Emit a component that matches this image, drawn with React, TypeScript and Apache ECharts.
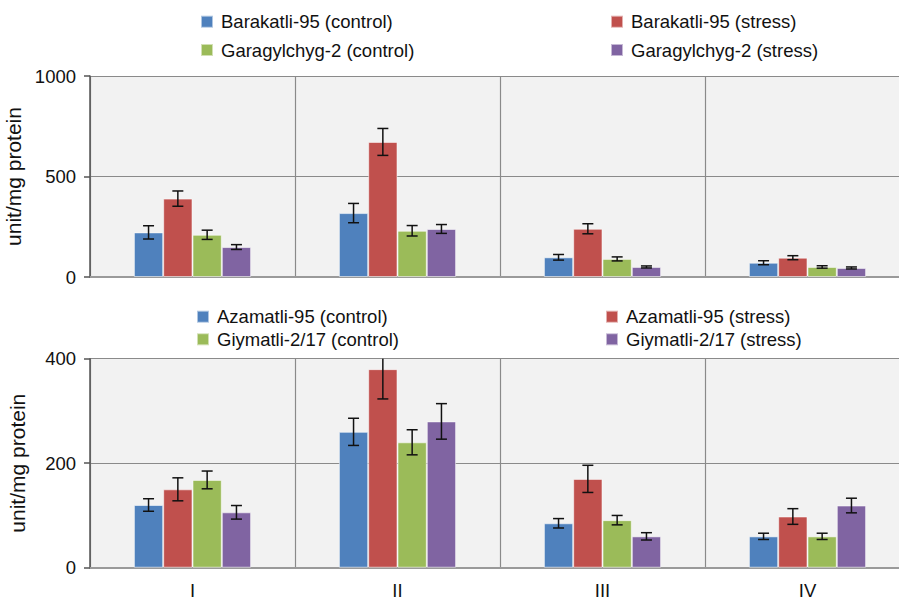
import React, { useEffect, useRef } from "react";
import * as echarts from "echarts";

// Category labels shared by both panels
const categories = ["I", "II", "III", "IV"];

// Upper panel: Barakatli-95 and Garagylchyg-2
const topNames = [
  "Barakatli-95 (control)",
  "Barakatli-95 (stress)",
  "Garagylchyg-2 (control)",
  "Garagylchyg-2 (stress)",
];
const barakatliControl = [222, 318, 98, 71];
const barakatliStress = [390, 672, 240, 96];
const garagylchygControl = [210, 230, 90, 50];
const garagylchygStress = [149, 239, 50, 45];
const barakatliControlErr = [33, 48, 14, 10];
const barakatliStressErr = [38, 67, 25, 10];
const garagylchygControlErr = [23, 26, 10, 6];
const garagylchygStressErr = [12, 22, 5, 5];

// Lower panel: Azamatli-95 and Giymatli-2/17
const bottomNames = [
  "Azamatli-95 (control)",
  "Azamatli-95 (stress)",
  "Giymatli-2/17 (control)",
  "Giymatli-2/17 (stress)",
];
const azamatliControl = [120, 260, 85, 60];
const azamatliStress = [150, 380, 170, 98];
const giymatliControl = [168, 240, 91, 60];
const giymatliStress = [106, 280, 60, 119];
const azamatliControlErr = [12, 26, 9, 6];
const azamatliStressErr = [22, 57, 26, 15];
const giymatliControlErr = [17, 24, 9, 6];
const giymatliStressErr = [13, 34, 7, 14];

// Tick labels of the two value axes
const topTicks = { min: 0, max: 1000, interval: 500 };
const bottomTicks = { min: 0, max: 400, interval: 200 };

const COLORS = ["#4F81BD", "#C0504D", "#9BBB59", "#8064A2"];
const FONT = "Liberation Sans, Arial, Helvetica, sans-serif";
const BAR_W = 29.3;

function buildPanel(
  gridIndex: number,
  names: string[],
  values: number[][],
  errors: number[][]
) {
  const series: any[] = [];
  names.forEach((name, k) => {
    series.push({
      name,
      type: "bar",
      xAxisIndex: gridIndex,
      yAxisIndex: gridIndex,
      data: values[k],
      barWidth: BAR_W,
      barGap: "0%",
      itemStyle: {
        color: COLORS[k],
        borderColor: "rgba(255,255,255,0.55)",
        borderWidth: 1,
      },
      emphasis: { disabled: true },
    });
  });
  names.forEach((name, k) => {
    series.push({
      name: name + " error",
      type: "custom",
      xAxisIndex: gridIndex,
      yAxisIndex: gridIndex,
      z: 5,
      data: values[k].map((v, i) => [i, v, errors[k][i]]),
      renderItem: (params: any, api: any) => {
        const idx = api.value(0);
        const v = api.value(1);
        const e = api.value(2);
        const cs = params.coordSys;
        const center = api.coord([idx, v]);
        const x = center[0] + (k - 1.5) * BAR_W;
        const hi = api.coord([idx, v + e])[1];
        const lo = api.coord([idx, v - e])[1];
        const top = Math.max(hi, cs.y);
        const cap = 5.5;
        const style = { stroke: "#111", lineWidth: 1.5 };
        const children: any[] = [
          { type: "line", shape: { x1: x, y1: top, x2: x, y2: lo }, style },
          { type: "line", shape: { x1: x - cap, y1: lo, x2: x + cap, y2: lo }, style },
        ];
        if (hi >= cs.y) {
          children.push({
            type: "line",
            shape: { x1: x - cap, y1: hi, x2: x + cap, y2: hi },
            style,
          });
        }
        return { type: "group", children };
      },
    });
  });
  return series;
}

function legend(names: string[], left: number, top: number, gap: number) {
  return {
    orient: "vertical",
    left,
    top,
    padding: 0,
    itemGap: gap,
    itemWidth: 12,
    itemHeight: 12,
    icon: "rect",
    selectedMode: false,
    data: names,
    textStyle: {
      fontFamily: FONT,
      fontSize: 18.5,
      lineHeight: 20,
      color: "#111",
      padding: [0, 0, 0, 3],
    },
  };
}

function xAxis(gridIndex: number, showLabels: boolean) {
  return {
    type: "category",
    gridIndex,
    data: categories,
    axisLine: { show: true, lineStyle: { color: "#9a9a9a", width: 2 } },
    axisTick: { show: false },
    axisLabel: {
      show: showLabels,
      margin: 13,
      fontFamily: FONT,
      fontSize: 18.5,
      color: "#111",
    },
    splitLine: { show: true, lineStyle: { color: "#8a8a8a", width: 1.2 } },
  };
}

function yAxis(gridIndex: number, ticks: { min: number; max: number; interval: number }) {
  return {
    type: "value",
    gridIndex,
    min: ticks.min,
    max: ticks.max,
    interval: ticks.interval,
    name: "unit/mg protein",
    nameLocation: "middle",
    nameGap: 62,
    nameTextStyle: { fontFamily: FONT, fontSize: 21, color: "#111" },
    axisLine: { show: true, lineStyle: { color: "#555", width: 1.5 } },
    axisTick: { show: true, inside: false, length: 6, lineStyle: { color: "#555", width: 1.5 } },
    axisLabel: {
      margin: 14,
      fontFamily: FONT,
      fontSize: 18.5,
      color: "#111",
      formatter: (v: number) => String(v),
    },
    splitLine: { show: true, lineStyle: { color: "#8a8a8a", width: 1.2 } },
  };
}

function grid(top: number, height: number) {
  return {
    left: 90,
    top,
    width: 820,
    height,
    show: true,
    backgroundColor: "#F2F2F2",
    borderWidth: 0,
    containLabel: false,
    outerBoundsMode: "none",
  };
}

export default function App() {
  const ref = useRef<HTMLDivElement>(null);

  useEffect(() => {
    if (!ref.current) return;
    const chart = echarts.init(ref.current, undefined, { renderer: "svg" });
    const option = {
      animation: false,
      backgroundColor: "#fff",
      grid: [grid(76, 201), grid(358.7, 209)],
      legend: [
        legend([topNames[0], topNames[2]], 200, 11.7, 8.3),
        legend([topNames[1], topNames[3]], 610, 11.7, 8.3),
        legend([bottomNames[0], bottomNames[2]], 196, 306.7, 2.6),
        legend([bottomNames[1], bottomNames[3]], 605, 306.7, 2.6),
      ],
      xAxis: [xAxis(0, false), xAxis(1, true)],
      yAxis: [yAxis(0, topTicks), yAxis(1, bottomTicks)],
      series: [
        ...buildPanel(
          0,
          topNames,
          [barakatliControl, barakatliStress, garagylchygControl, garagylchygStress],
          [barakatliControlErr, barakatliStressErr, garagylchygControlErr, garagylchygStressErr]
        ),
        ...buildPanel(
          1,
          bottomNames,
          [azamatliControl, azamatliStress, giymatliControl, giymatliStress],
          [azamatliControlErr, azamatliStressErr, giymatliControlErr, giymatliStressErr]
        ),
      ],
    };
    chart.setOption(option as any);
    return () => chart.dispose();
  }, []);

  return (
    <div
      style={{
        position: "fixed",
        left: 0,
        top: 0,
        width: 899,
        height: 600,
        overflow: "hidden",
        background: "#fff",
      }}
    >
      <div ref={ref} style={{ width: 930, height: 600 }} />
    </div>
  );
}
